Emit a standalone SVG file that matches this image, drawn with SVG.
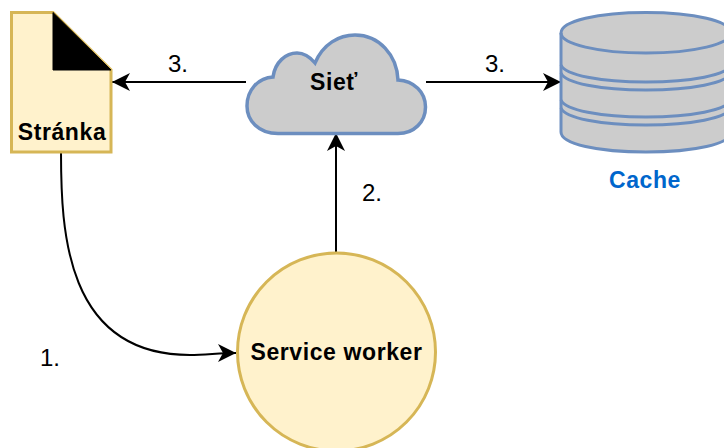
<svg xmlns="http://www.w3.org/2000/svg" width="724" height="448" viewBox="0 0 724 448">
<style>
.t{font-family:"Liberation Sans",Arial,sans-serif;font-size:24px;fill:#000}
.b{font-family:"Liberation Sans",Arial,sans-serif;font-size:23px;font-weight:bold;text-anchor:middle;fill:#000;letter-spacing:.6px}
.g{fill:#cccccc;stroke:#6c8ebf;stroke-width:3}
.y{fill:#fff2cc;stroke:#d6b656;stroke-width:3}
.c{fill:none;stroke:#000;stroke-width:2}
</style>
<defs><marker id="a" markerUnits="userSpaceOnUse" markerWidth="20" markerHeight="20" refX="18" refY="9" orient="auto"><path d="M0 0L18 9L0 18L5 9Z" fill="#000"/></marker></defs>
<rect width="724" height="448" fill="#fff"/>
<g id="connectors">
<path class="c" d="M61 152C61 230 65 355 190 355C205 355 220 353 236 353" marker-end="url(#a)"/>
<path class="c" d="M246 82H112" marker-end="url(#a)"/>
<path class="c" d="M426 82H561" marker-end="url(#a)"/>
<path class="c" d="M336 252V133" marker-end="url(#a)"/>
</g>
<g id="page">
<path class="y" d="M11.500 12.500H53L111 70V152H11.500Z"/>
<path d="M53 12.500V70H111Z" fill="#000" stroke="#000" stroke-width="1"/>
<text class="b" x="62" y="140">Stránka</text>
</g>
<g id="cloud">
<path class="g" style="stroke-width:3.500" d="M278 133.500C258 133.500 247 120 247 106C247 90 258 78 273 77C275 62 286 53 297 53C304 53 310 57 315 63C323 44 339 35 355 35C379 35 397 55 398 80C414 81 425.500 92 425.500 107C425.500 122 414 133.500 398 133.500Z"/>
<text class="b" x="334" y="90">Sieť</text>
</g>
<g id="cache">
<path class="g" d="M561 33C561 21 598 12.500 646 12.500C694 12.500 731 21 731 33V132C731 144 694 152 646 152C598 152 561 144 561 132Z"/>
<path class="g" style="fill:none" d="M561 33C561 44 598 53 646 53C694 53 731 44 731 33M561 65C565 75 600 82 646 82C692 82 727 75 731 65M561 73C565 83 600 90 646 90C692 90 727 83 731 73M561 100C565 110 600 117 646 117C692 117 727 110 731 100M561 108C565 118 600 125 646 125C692 125 727 118 731 108"/>
<text class="b" x="645" y="188" style="fill:#0066cc">Cache</text>
</g>
<g id="worker">
<circle class="y" cx="336.500" cy="352" r="99"/>
<text class="b" x="336.500" y="360">Service worker</text>
</g>
<g id="labels">
<text class="t" x="168" y="72">3.</text>
<text class="t" x="485" y="72">3.</text>
<text class="t" x="362" y="201">2.</text>
<text class="t" x="40" y="366">1.</text>
</g>
</svg>
